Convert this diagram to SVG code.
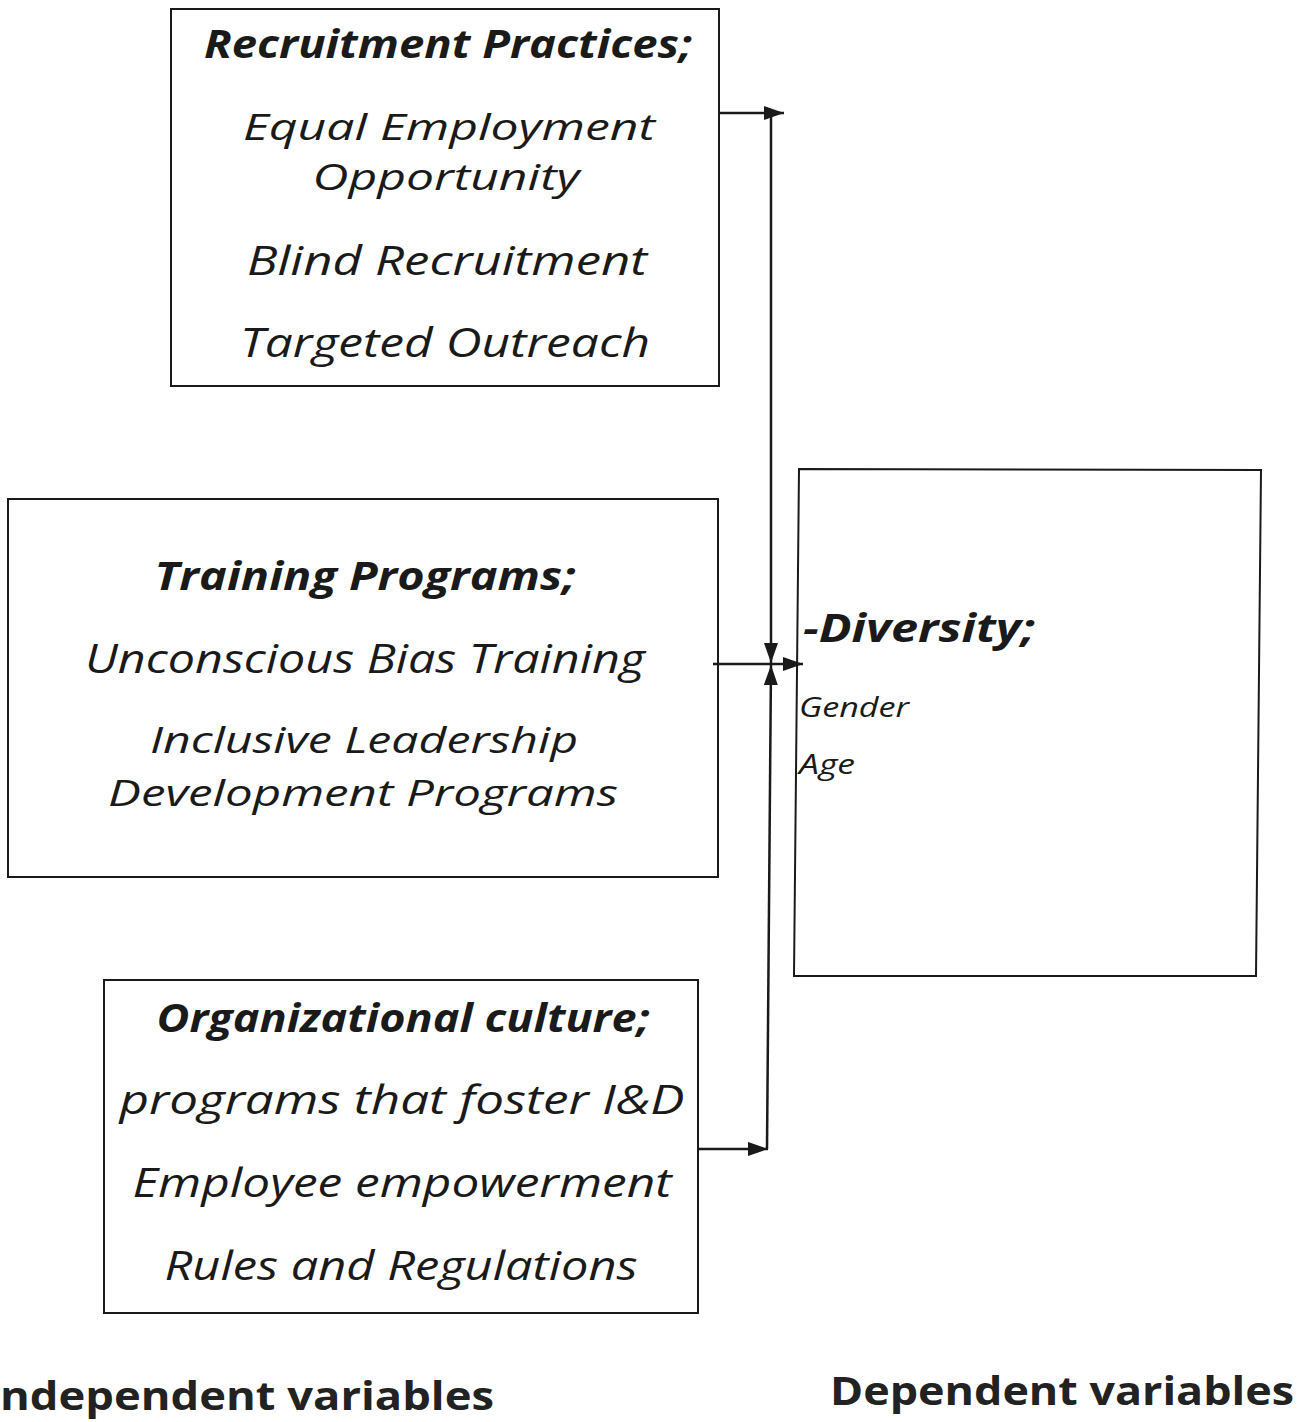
<svg xmlns="http://www.w3.org/2000/svg" width="1309" height="1422" viewBox="0 0 1309 1422">
  <style>
    .box { fill: #ffffff; stroke: #1a1a1a; stroke-width: 2; }
    .hand { font-family: "Open Sans", "Noto Sans", "DejaVu Sans", sans-serif; font-style: italic; fill: #1a1a1a; }
    .head { font-weight: bold; font-size: 40px; }
    .item { font-size: 40px; }
    .tight { font-size: 37px; }
    .small { font-size: 27px; }
    .caption { font-family: "Open Sans", "Noto Sans", sans-serif; font-weight: bold; font-size: 40px; fill: #222222; }
    .wire { fill: none; stroke: #1a1a1a; stroke-width: 2.5; }
  </style>
  <defs>
    <marker id="arrowBig" viewBox="0 0 20 16" refX="20" refY="8" markerWidth="20" markerHeight="16" markerUnits="userSpaceOnUse" orient="auto">
      <path d="M0,1 L20,8 L0,15 z" fill="#1a1a1a"/>
    </marker>
  </defs>
  <rect width="1309" height="1422" fill="#ffffff"/>

  <g id="recruitment">
    <rect class="box" x="171" y="9" width="548" height="377"/>
    <text class="hand head" x="448" y="58" text-anchor="middle" textLength="488" lengthAdjust="spacingAndGlyphs">Recruitment Practices;</text>
    <text class="hand tight" x="449" y="140" text-anchor="middle" textLength="412" lengthAdjust="spacingAndGlyphs">Equal Employment</text>
    <text class="hand tight" x="446" y="190" text-anchor="middle" textLength="267" lengthAdjust="spacingAndGlyphs">Opportunity</text>
    <text class="hand item" x="447" y="275" text-anchor="middle" textLength="400" lengthAdjust="spacingAndGlyphs">Blind Recruitment</text>
    <text class="hand item" x="445" y="357" text-anchor="middle" textLength="410" lengthAdjust="spacingAndGlyphs">Targeted Outreach</text>
  </g>

  <g id="training">
    <rect class="box" x="8" y="499" width="710" height="378"/>
    <text class="hand head" x="365" y="590" text-anchor="middle" textLength="421" lengthAdjust="spacingAndGlyphs">Training Programs;</text>
    <text class="hand item" x="365" y="673" text-anchor="middle" textLength="560" lengthAdjust="spacingAndGlyphs">Unconscious Bias Training</text>
    <text class="hand tight" x="364" y="753" text-anchor="middle" textLength="428" lengthAdjust="spacingAndGlyphs">Inclusive Leadership</text>
    <text class="hand tight" x="363" y="806" text-anchor="middle" textLength="510" lengthAdjust="spacingAndGlyphs">Development Programs</text>
  </g>

  <g id="culture">
    <rect class="box" x="104" y="980" width="594" height="333"/>
    <text class="hand head" x="403" y="1032" text-anchor="middle" textLength="493" lengthAdjust="spacingAndGlyphs">Organizational culture;</text>
    <text class="hand item" x="402" y="1114" text-anchor="middle" textLength="565" lengthAdjust="spacingAndGlyphs">programs that foster I&amp;D</text>
    <text class="hand item" x="402" y="1197" text-anchor="middle" textLength="539" lengthAdjust="spacingAndGlyphs">Employee empowerment</text>
    <text class="hand item" x="401" y="1280" text-anchor="middle" textLength="473" lengthAdjust="spacingAndGlyphs">Rules and Regulations</text>
  </g>

  <g id="diversity">
    <polygon class="box" points="799,469 1261,470 1256,976 794,976"/>
    <text class="hand head" x="803" y="642" textLength="232" lengthAdjust="spacingAndGlyphs">-Diversity;</text>
    <text class="hand small" x="799" y="717" textLength="110" lengthAdjust="spacingAndGlyphs">Gender</text>
    <text class="hand small" x="799" y="774" textLength="56" lengthAdjust="spacingAndGlyphs">Age</text>
  </g>

  <g id="connectors">
    <!-- recruitment: out to the right, then down to the junction -->
    <line class="wire" x1="719" y1="113" x2="784" y2="113" marker-end="url(#arrowBig)"/>
    <line class="wire" x1="771" y1="113" x2="771" y2="663" marker-end="url(#arrowBig)"/>
    <!-- training: straight across into the diversity box -->
    <line class="wire" x1="713" y1="664" x2="803" y2="664" marker-end="url(#arrowBig)"/>
    <!-- culture: out to the right, then up to the junction -->
    <line class="wire" x1="698" y1="1149" x2="768" y2="1149" marker-end="url(#arrowBig)"/>
    <line class="wire" x1="767" y1="1149" x2="771" y2="665" marker-end="url(#arrowBig)"/>
  </g>

  <g id="captions">
    <text class="caption" x="0" y="1410" textLength="494" lengthAdjust="spacingAndGlyphs">ndependent variables</text>
    <text class="caption" x="830" y="1405" textLength="464" lengthAdjust="spacingAndGlyphs">Dependent variables</text>
  </g>
</svg>
